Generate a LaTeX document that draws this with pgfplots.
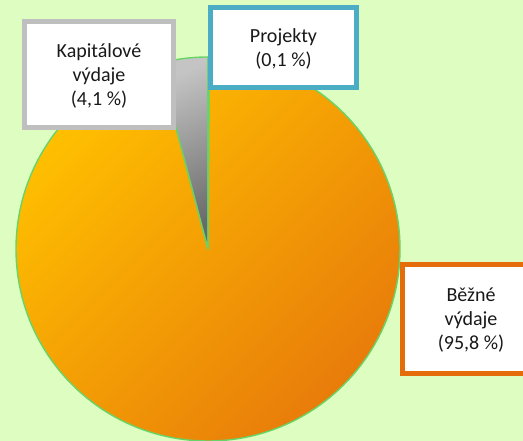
\documentclass[border=0pt]{standalone}
\usepackage{fontspec}
\setmainfont{Carlito}
\usepackage{pgfplots}
\usepackage{pgfplotstable}
\pgfplotsset{compat=1.18}
\definecolor{bg}{RGB}{222,253,192}
\definecolor{pieedge}{RGB}{104,212,104}
\definecolor{pieyellow}{RGB}{255,192,0}
\definecolor{pieorange}{RGB}{232,124,10}
\definecolor{projblue}{RGB}{75,172,198}
\definecolor{kapgray}{RGB}{191,191,191}
\definecolor{kaplight}{RGB}{196,196,196}
\definecolor{kapdark}{RGB}{105,105,105}
\definecolor{bezorange}{RGB}{228,108,10}

% shares in percent
\pgfplotstableread{
part value
Projekty 0.1
Kapitalove 4.1
Bezne 95.8
}\piedata

\begin{document}
\begin{tikzpicture}
\pgfplotstablegetelem{0}{value}\of\piedata \pgfmathsetmacro\aP{\pgfplotsretval*3.6}
\pgfplotstablegetelem{1}{value}\of\piedata \pgfmathsetmacro\aK{\pgfplotsretval*3.6}
\pgfplotstablegetelem{2}{value}\of\piedata \pgfmathsetmacro\aB{\pgfplotsretval*3.6}
\pgfmathsetmacro\sB{90-\aP}
\pgfmathsetmacro\eB{90-\aP-\aB}
\pgfmathsetmacro\sK{90+\aK}
\begin{axis}[
  x=1bp, y=1bp, xmin=0, xmax=523, ymin=0, ymax=441,
  hide axis, scale only axis, clip=true,
]
\fill[bg] (axis cs:0,0) rectangle (axis cs:523,441);
% slices, clockwise from 12 o'clock
\shade[top color=pieyellow, middle color=pieyellow, bottom color=pieorange, shading angle=45]
  (axis cs:208,192) -- ++(\sB:192bp) arc[start angle=\sB, end angle=\eB, radius=192bp] -- cycle;
\draw[pieedge, line width=1.4bp, line join=round]
  (axis cs:208,192) -- ++(\sB:192bp) arc[start angle=\sB, end angle=\eB, radius=192bp] -- cycle;
\shade[top color=kaplight, bottom color=kapdark, shading angle=25]
  (axis cs:208,192) -- ++(\sK:192bp) arc[start angle=\sK, end angle=90, radius=192bp] -- cycle;
\draw[pieedge, line width=1.4bp, line join=round]
  (axis cs:208,192) -- ++(\sK:192bp) arc[start angle=\sK, end angle=90, radius=192bp] -- cycle;
\filldraw[fill=projblue, draw=pieedge, line width=1.4bp]
  (axis cs:208,192) -- ++(90:192bp) arc[start angle=90, end angle=\sB, radius=192bp] -- cycle;
% label boxes
\filldraw[fill=white, draw=kapgray, line width=5bp]
  (axis cs:24.5,419.5) rectangle (axis cs:173.5,313.5);
\filldraw[fill=white, draw=projblue, line width=5bp]
  (axis cs:210.5,433.5) rectangle (axis cs:356.5,353.5);
\filldraw[overlay, fill=white, draw=bezorange, line width=5bp]
  (axis cs:402.5,176.5) rectangle (axis cs:543,67.5);
\node[align=center, font=\fontsize{20bp}{24bp}\selectfont, text=black!90]
  at (axis cs:99,365) {Kapitálové\\výdaje\\(4,1 \%)};
\node[align=center, font=\fontsize{20bp}{24bp}\selectfont, text=black!90]
  at (axis cs:283.5,392) {Projekty\\(0,1 \%)};
\node[align=center, font=\fontsize{20bp}{24bp}\selectfont, text=black!90]
  at (axis cs:471,121) {Běžné\\výdaje\\(95,8 \%)};
\end{axis}
\end{tikzpicture}
\end{document}
